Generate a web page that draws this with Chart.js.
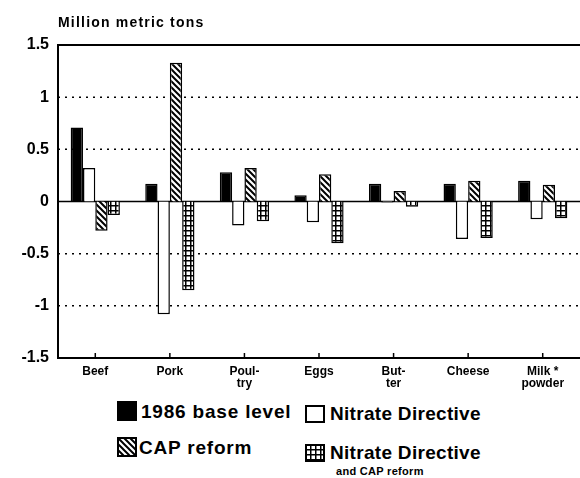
<!DOCTYPE html>
<html>
<head>
<meta charset="utf-8">
<script src="https://cdn.jsdelivr.net/npm/chart.js@4.4.1/dist/chart.umd.min.js"></script>
<style>
  html, body { margin: 0; padding: 0; background: #fff; }
  body { width: 580px; height: 478px; position: relative; overflow: hidden; font-family: "Liberation Sans", Arial, sans-serif; }
  #wrap { position: absolute; left: 0; top: 0; width: 580px; height: 392px; }
  #title { position: absolute; left: 58px; top: 14px; font-size: 14px; font-weight: bold; letter-spacing: 1.2px; }
  .lg { position: absolute; font-weight: bold; font-size: 19px; letter-spacing: 0.8px; white-space: nowrap; line-height: 22px; }
  .lg.nd { letter-spacing: 0.3px; }
  .sw { position: absolute; }
  #sub { position: absolute; left: 336px; top: 465px; font-size: 11px; font-weight: bold; letter-spacing: 0.3px; }
</style>
</head>
<body>
<div id="wrap"><canvas id="barChart"></canvas></div>
<div id="title">Million metric tons</div>

<canvas class="sw" id="sw0" width="20" height="20" style="left:117px;top:401px"></canvas>
<div class="lg" style="left:141px;top:401px">1986 base level</div>
<canvas class="sw" id="sw1" width="20" height="18" style="left:305px;top:405px"></canvas>
<div class="lg nd" style="left:330px;top:403px">Nitrate Directive</div>
<canvas class="sw" id="sw2" width="20" height="20" style="left:117px;top:437px"></canvas>
<div class="lg" style="left:139px;top:437px">CAP reform</div>
<canvas class="sw" id="sw3" width="20" height="18" style="left:305px;top:444px"></canvas>
<div class="lg nd" style="left:330px;top:442px">Nitrate Directive</div>
<div id="sub">and CAP reform</div>

<script>
// data (million metric tons)
const categories = [['Beef'], ['Pork'], ['Poul-', 'try'], ['Eggs'], ['But-', 'ter'], ['Cheese'], ['Milk *', 'powder']];
const seriesNames = ['1986 base level', 'Nitrate Directive', 'CAP reform', 'Nitrate Directive and CAP reform'];
const base1986 = [0.71, 0.17, 0.28, 0.06, 0.17, 0.17, 0.20];
const nitrate = [0.32, -1.08, -0.23, -0.20, -0.01, -0.36, -0.17];
const capReform = [-0.28, 1.33, 0.32, 0.26, 0.10, 0.20, 0.16];
const nitrateCap = [-0.13, -0.85, -0.19, -0.40, -0.05, -0.35, -0.16];
const yTicks = [-1.5, -1, -0.5, 0, 0.5, 1, 1.5];

// fill patterns
function hatchPattern(ctx) {
    const c = document.createElement('canvas');
    c.width = 6; c.height = 6;
    const p = c.getContext('2d');
    p.fillStyle = '#fff';
    p.fillRect(0, 0, 6, 6);
    p.strokeStyle = '#000';
    p.lineWidth = 2;
    p.beginPath();
    p.moveTo(-3, -3); p.lineTo(9, 9);
    p.moveTo(-3, 3); p.lineTo(3, 9);
    p.moveTo(3, -3); p.lineTo(9, 3);
    p.stroke();
    return ctx.createPattern(c, 'repeat');
}

function gridPattern(ctx) {
    const c = document.createElement('canvas');
    c.width = 5; c.height = 5;
    const p = c.getContext('2d');
    p.fillStyle = '#fff';
    p.fillRect(0, 0, 5, 5);
    p.fillStyle = '#000';
    p.fillRect(0, 0, 5, 1.5);
    p.fillRect(0, 0, 1.5, 5);
    return ctx.createPattern(c, 'repeat');
}

const mainCtx = document.getElementById('barChart').getContext('2d');
const fills = ['#000', '#fff', hatchPattern(mainCtx), gridPattern(mainCtx)];

// horizontal reference lines and x tick marks, placed through the scales
const refLines = {
    id: 'refLines',
    beforeDatasetsDraw(chart) {
        const { ctx, chartArea, scales } = chart;
        ctx.save();
        ctx.strokeStyle = '#000';
        yTicks.forEach(v => {
            const y = scales.y.getPixelForValue(v);
            ctx.beginPath();
            if (v === 0 || Math.abs(v) === 1.5) {
                ctx.setLineDash([]);
                ctx.lineWidth = v === 0 ? 1.5 : 2;
            } else {
                ctx.setLineDash([2, 5]);
                ctx.lineWidth = 1.5;
            }
            ctx.moveTo(chartArea.left, y);
            ctx.lineTo(chartArea.right, y);
            ctx.stroke();
        });
        ctx.setLineDash([]);
        ctx.lineWidth = 1.5;
        const yb = scales.y.getPixelForValue(-1.5);
        categories.forEach((c, i) => {
            const x = scales.x.getPixelForValue(i);
            ctx.beginPath();
            ctx.moveTo(x, yb);
            ctx.lineTo(x, yb - 5);
            ctx.stroke();
        });
        ctx.restore();
    }
};

const chart = new Chart(mainCtx, {
    type: 'bar',
    data: {
        labels: categories,
        datasets: [base1986, nitrate, capReform, nitrateCap].map((vals, i) => ({
            label: seriesNames[i],
            data: vals,
            backgroundColor: fills[i],
            borderColor: '#000',
            borderWidth: 1.5,
            categoryPercentage: 0.66,
            barPercentage: 1
        }))
    },
    options: {
        responsive: true,
        maintainAspectRatio: false,
        animation: false,
        layout: { padding: { top: 45, left: 0, right: 0, bottom: 0 } },
        plugins: {
            legend: { display: false },
            tooltip: { enabled: false }
        },
        scales: {
            x: {
                grid: { display: false, drawTicks: false },
                border: { display: false },
                ticks: {
                    color: '#000',
                    padding: 8,
                    maxRotation: 0,
                    autoSkip: false,
                    font: { family: '"Liberation Sans", Arial, sans-serif', size: 12, weight: 'bold', lineHeight: 1.0 }
                },
                afterFit(scale) { scale.height = 34; }
            },
            y: {
                min: -1.5,
                max: 1.5,
                afterBuildTicks(scale) { scale.ticks = yTicks.map(v => ({ value: v })); },
                grid: { display: false, drawTicks: false },
                border: { display: true, color: '#000', width: 2 },
                ticks: {
                    color: '#000',
                    padding: 9,
                    font: { family: '"Liberation Sans", Arial, sans-serif', size: 16, weight: 'bold' },
                    callback: v => String(v)
                },
                afterFit(scale) { scale.width = 58; }
            }
        }
    },
    plugins: [refLines]
});

// legend swatches
['sw0', 'sw1', 'sw2', 'sw3'].forEach((id, i) => {
    const el = document.getElementById(id);
    const c = el.getContext('2d');
    const f = i === 2 ? hatchPattern(c) : i === 3 ? gridPattern(c) : fills[i];
    c.fillStyle = f;
    c.fillRect(0, 0, el.width, el.height);
    c.strokeStyle = '#000';
    c.lineWidth = 2;
    c.strokeRect(1, 1, el.width - 2, el.height - 2);
});
</script>
</body>
</html>
